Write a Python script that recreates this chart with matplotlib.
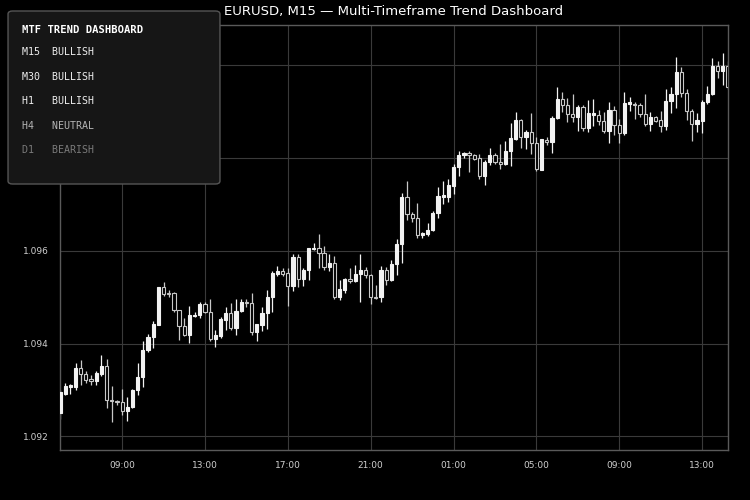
import matplotlib
matplotlib.use("Agg")
import matplotlib.pyplot as plt
import matplotlib.dates as mdates
from matplotlib.patches import FancyBboxPatch, Rectangle
import pandas as pd
import numpy as np

# ---------------- data ----------------
start_time = "2024-01-15 06:00"
n_bars = 130

opens = [1.09250, 1.09292, 1.09306, 1.09306, 1.09347, 1.09335, 1.09324, 1.09319, 1.09335, 1.09352,
         1.09278, 1.09276, 1.09274, 1.09254, 1.09263, 1.09299, 1.09327, 1.09385, 1.09414, 1.09441,
         1.09522, 1.09509, 1.09509, 1.09472, 1.09438, 1.09418, 1.09460, 1.09462, 1.09485, 1.09467,
         1.09409, 1.09417, 1.09450, 1.09466, 1.09433, 1.09470, 1.09490, 1.09487, 1.09424, 1.09441,
         1.09465, 1.09500, 1.09550, 1.09557, 1.09551, 1.09523, 1.09587, 1.09539, 1.09559, 1.09604,
         1.09607, 1.09596, 1.09564, 1.09574, 1.09500, 1.09516, 1.09539, 1.09534, 1.09550, 1.09559,
         1.09548, 1.09501, 1.09500, 1.09559, 1.09536, 1.09571, 1.09614, 1.09715, 1.09680, 1.09671,
         1.09634, 1.09636, 1.09644, 1.09681, 1.09716, 1.09716, 1.09739, 1.09780, 1.09806, 1.09811,
         1.09807, 1.09799, 1.09761, 1.09791, 1.09807, 1.09791, 1.09786, 1.09814, 1.09842, 1.09881,
         1.09845, 1.09857, 1.09832, 1.09775, 1.09839, 1.09834, 1.09886, 1.09927, 1.09914, 1.09895,
         1.09888, 1.09909, 1.09864, 1.09892, 1.09893, 1.09880, 1.09858, 1.09904, 1.09871, 1.09853,
         1.09916, 1.09917, 1.09914, 1.09895, 1.09873, 1.09888, 1.09881, 1.09870, 1.09922, 1.09937,
         1.09985, 1.09940, 1.09901, 1.09873, 1.09879, 1.09920, 1.09937, 1.09998, 1.09987, 1.09998]

highs = [1.09299, 1.09314, 1.09313, 1.09358, 1.09365, 1.09340, 1.09333, 1.09341, 1.09376, 1.09367,
         1.09309, 1.09279, 1.09303, 1.09284, 1.09301, 1.09357, 1.09406, 1.09420, 1.09449, 1.09522,
         1.09533, 1.09516, 1.09512, 1.09472, 1.09455, 1.09480, 1.09468, 1.09490, 1.09490, 1.09495,
         1.09430, 1.09457, 1.09478, 1.09488, 1.09497, 1.09497, 1.09496, 1.09510, 1.09443, 1.09478,
         1.09516, 1.09556, 1.09568, 1.09563, 1.09563, 1.09592, 1.09594, 1.09563, 1.09607, 1.09616,
         1.09637, 1.09611, 1.09594, 1.09589, 1.09538, 1.09541, 1.09563, 1.09570, 1.09592, 1.09564,
         1.09549, 1.09527, 1.09568, 1.09566, 1.09581, 1.09626, 1.09725, 1.09751, 1.09683, 1.09704,
         1.09641, 1.09659, 1.09685, 1.09738, 1.09751, 1.09755, 1.09786, 1.09815, 1.09812, 1.09815,
         1.09809, 1.09809, 1.09795, 1.09822, 1.09811, 1.09831, 1.09837, 1.09876, 1.09900, 1.09883,
         1.09861, 1.09896, 1.09846, 1.09842, 1.09845, 1.09891, 1.09952, 1.09943, 1.09929, 1.09937,
         1.09914, 1.09915, 1.09926, 1.09927, 1.09904, 1.09899, 1.09921, 1.09912, 1.09883, 1.09942,
         1.09931, 1.09921, 1.09919, 1.09939, 1.09900, 1.09891, 1.09901, 1.09949, 1.09952, 1.10018,
         1.09996, 1.09949, 1.09905, 1.09897, 1.09924, 1.09955, 1.10016, 1.10010, 1.10026, 1.10010]

lows = [1.09238, 1.09290, 1.09291, 1.09299, 1.09311, 1.09316, 1.09310, 1.09311, 1.09329, 1.09260,
        1.09230, 1.09267, 1.09245, 1.09233, 1.09261, 1.09288, 1.09307, 1.09381, 1.09390, 1.09439,
        1.09502, 1.09500, 1.09467, 1.09408, 1.09416, 1.09401, 1.09457, 1.09454, 1.09466, 1.09405,
        1.09392, 1.09413, 1.09430, 1.09430, 1.09418, 1.09467, 1.09478, 1.09419, 1.09405, 1.09426,
        1.09432, 1.09467, 1.09546, 1.09545, 1.09480, 1.09513, 1.09522, 1.09525, 1.09537, 1.09602,
        1.09563, 1.09559, 1.09557, 1.09497, 1.09493, 1.09510, 1.09530, 1.09532, 1.09489, 1.09541,
        1.09485, 1.09495, 1.09489, 1.09527, 1.09534, 1.09548, 1.09573, 1.09667, 1.09663, 1.09627,
        1.09627, 1.09631, 1.09643, 1.09670, 1.09700, 1.09706, 1.09723, 1.09761, 1.09799, 1.09769,
        1.09795, 1.09755, 1.09741, 1.09784, 1.09788, 1.09776, 1.09785, 1.09782, 1.09838, 1.09821,
        1.09819, 1.09808, 1.09771, 1.09774, 1.09827, 1.09810, 1.09884, 1.09899, 1.09877, 1.09877,
        1.09858, 1.09858, 1.09855, 1.09870, 1.09872, 1.09854, 1.09832, 1.09850, 1.09832, 1.09849,
        1.09901, 1.09884, 1.09888, 1.09870, 1.09858, 1.09877, 1.09855, 1.09860, 1.09896, 1.09907,
        1.09932, 1.09881, 1.09836, 1.09855, 1.09853, 1.09916, 1.09936, 1.09972, 1.09958, 1.09949]

closes = [1.09295, 1.09309, 1.09310, 1.09347, 1.09334, 1.09322, 1.09319, 1.09337, 1.09352, 1.09278,
          1.09276, 1.09273, 1.09254, 1.09264, 1.09300, 1.09328, 1.09387, 1.09415, 1.09443, 1.09522,
          1.09507, 1.09506, 1.09472, 1.09437, 1.09418, 1.09462, 1.09462, 1.09485, 1.09467, 1.09409,
          1.09419, 1.09452, 1.09466, 1.09433, 1.09470, 1.09490, 1.09487, 1.09424, 1.09442, 1.09466,
          1.09500, 1.09551, 1.09557, 1.09549, 1.09523, 1.09587, 1.09539, 1.09559, 1.09606, 1.09607,
          1.09595, 1.09564, 1.09574, 1.09500, 1.09518, 1.09539, 1.09534, 1.09550, 1.09559, 1.09547,
          1.09500, 1.09499, 1.09559, 1.09536, 1.09571, 1.09615, 1.09715, 1.09679, 1.09670, 1.09634,
          1.09638, 1.09645, 1.09682, 1.09719, 1.09720, 1.09741, 1.09781, 1.09807, 1.09811, 1.09807,
          1.09798, 1.09761, 1.09792, 1.09807, 1.09791, 1.09786, 1.09816, 1.09844, 1.09881, 1.09845,
          1.09857, 1.09832, 1.09776, 1.09840, 1.09835, 1.09887, 1.09927, 1.09914, 1.09894, 1.09888,
          1.09909, 1.09864, 1.09896, 1.09896, 1.09879, 1.09858, 1.09904, 1.09871, 1.09853, 1.09919,
          1.09920, 1.09914, 1.09895, 1.09873, 1.09888, 1.09880, 1.09870, 1.09923, 1.09938, 1.09985,
          1.09940, 1.09901, 1.09873, 1.09881, 1.09921, 1.09938, 1.09998, 1.09987, 1.09998, 1.09953]

timeframes = ["M15", "M30", "H1", "H4", "D1"]
trends = ["BULLISH", "BULLISH", "BULLISH", "NEUTRAL", "BEARISH"]
trend_colors = {"BULLISH": "#eeeeee", "NEUTRAL": "#b4b4b4", "BEARISH": "#7a7a7a"}

title = "EURUSD, M15 \u2014 Multi-Timeframe Trend Dashboard"
ylim = (1.091705, 1.100867)
yticks = [1.092, 1.094, 1.096, 1.098, 1.100]

# ---------------- figure ----------------
times = pd.date_range(start_time, periods=n_bars, freq="15min")
x = mdates.date2num(times.to_pydatetime())
step = x[1] - x[0]
width = step * 0.62

fig = plt.figure(figsize=(7.5, 5), dpi=100, facecolor="#000000")
ax = fig.add_axes([0.08, 0.10, 0.8907, 0.85])
ax.set_facecolor("#000000")

bull_c = "#f2f2f2"
bear_edge = "#c8c8c8"
for xi, o, h, l, c in zip(x, opens, highs, lows, closes):
    bull = c >= o
    col = bull_c if bull else bear_edge
    ax.vlines(xi, l, h, color=col, linewidth=0.9, zorder=2)
    lo, hi = min(o, c), max(o, c)
    hgt = max(hi - lo, 0.000012)
    ax.add_patch(Rectangle((xi - width / 2, lo), width, hgt,
                           facecolor=bull_c if bull else "#000000",
                           edgecolor=col, linewidth=0.8, zorder=3))

ax.set_xlim(x[0], x[-1])
ax.set_ylim(*ylim)
ax.set_yticks(yticks)
ax.yaxis.set_major_formatter(matplotlib.ticker.FormatStrFormatter("%.3f"))
ax.xaxis.set_major_locator(mdates.HourLocator(byhour=[1, 5, 9, 13, 17, 21]))
ax.xaxis.set_major_formatter(mdates.DateFormatter("%H:%M"))
ax.grid(True, color="#3a3a3a", linewidth=0.8, zorder=0)
ax.set_axisbelow(True)
for s in ax.spines.values():
    s.set_color("#5a5a5a")
    s.set_linewidth(1.0)
ax.tick_params(axis="both", colors="#cfcfcf", labelsize=6.5, length=0, pad=8)

ax.set_title(title, color="#ffffff", fontsize=9.5, pad=7)

# ---------------- dashboard box ----------------
box = FancyBboxPatch((0.0107, 0.632), 0.2826, 0.346,
                     boxstyle="round,pad=0,rounding_size=0.006",
                     transform=fig.transFigure, facecolor="#161616",
                     edgecolor="#555555", linewidth=1.0, zorder=10)
fig.patches.append(box)
fig.text(0.0293, 0.940, "MTF TREND DASHBOARD", family="DejaVu Sans Mono",
         fontweight="bold", fontsize=7.6, color="#ffffff", va="center", zorder=11)
row_y = [0.896, 0.847, 0.798, 0.748, 0.700]
for tf, tr, yy in zip(timeframes, trends, row_y):
    fig.text(0.0293, yy, f"{tf:<5}{tr}", family="DejaVu Sans Mono", fontsize=7.2,
             color=trend_colors[tr], va="center", zorder=11)

fig.savefig("out.png", dpi=100, facecolor=fig.get_facecolor())
